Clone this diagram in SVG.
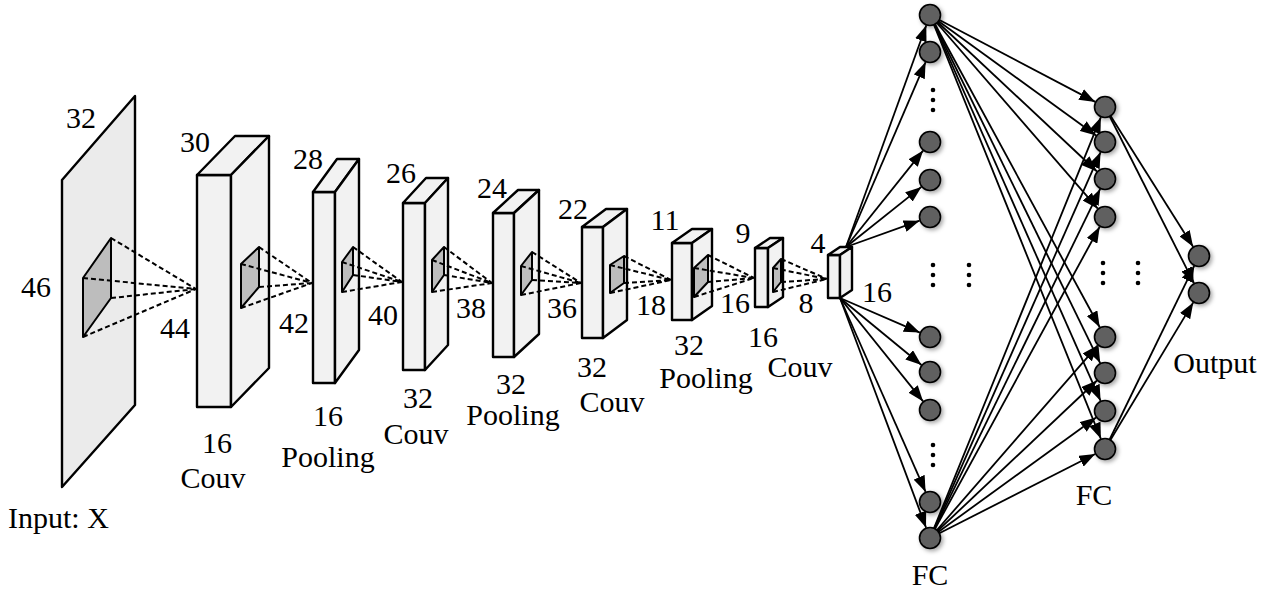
<svg xmlns="http://www.w3.org/2000/svg" width="1277" height="595" viewBox="0 0 1277 595" font-family="Liberation Serif, DejaVu Serif, serif">
  <style>
    .plane { fill: #ebebeb; stroke: #000; stroke-width: 2.4; stroke-linejoin: round; }
    .face { fill: #f2f2f2; stroke: #000; stroke-width: 2.4; stroke-linejoin: round; }
    .patch { fill: #bdbdbd; stroke: #000; stroke-width: 2; stroke-linejoin: round; }
    .dash { fill: none; stroke: #000; stroke-width: 2; stroke-dasharray: 5 3; }
    .lbl { font-family: 'Liberation Serif', 'DejaVu Serif', serif; font-size: 30px; fill: #000; text-anchor: middle; }
    .edge { stroke: #000; stroke-width: 1.8; fill: none; marker-end: url(#arr); }
    .node { fill: #616161; stroke: #000; stroke-width: 1.6; filter: url(#sh); }
    .dot { fill: #000; }
  </style>
  <defs>
    <marker id="arr" markerUnits="userSpaceOnUse" markerWidth="16" markerHeight="12" refX="16" refY="6" orient="auto">
      <path d="M0,0 L16,6 L0,12 Z" fill="#000"/>
    </marker>
    <filter id="sh" x="-50%" y="-50%" width="200%" height="200%">
      <feDropShadow dx="2" dy="2" stdDeviation="2" flood-color="#000" flood-opacity="0.35"/>
    </filter>
  </defs>

  <rect width="1277" height="595" fill="#fff"/>

  <!-- input plane -->
  <g id="input">
    <polygon class="plane" points="62,180 135,96 135,405 62,487"/>
    <polygon class="patch" points="111,238 111,298 83,337 83,278"/>
    <text class="lbl" font-family="Liberation Serif" x="81" y="128">32</text>
    <text class="lbl" font-family="Liberation Serif" x="36" y="297">46</text>
    <text class="lbl" font-family="Liberation Serif" x="175" y="338">44</text>
    <text class="lbl" font-family="Liberation Serif" x="8" y="528" style="text-anchor:start">Input: X</text>
  </g>

  <!-- convolution / pooling volumes -->
  <g id="conv1">
    <polygon class="face" points="197,175 231,175 231,407 197,407"/>
    <polygon class="face" points="197,175 235,136 269,136 231,175"/>
    <polygon class="face" points="231,175 269,136 269,368 231,407"/>
    <polygon class="patch" points="259,247 259,287 241,308 241,264"/>
    <text class="lbl" x="195" y="152">30</text>
    <text class="lbl" x="294" y="333">42</text>
    <text class="lbl" x="217" y="453">16</text>
    <text class="lbl" x="213" y="488">Couv</text>
  </g>
  <g id="pool1">
    <polygon class="face" points="313,192 335,192 335,383 313,383"/>
    <polygon class="face" points="313,192 337,159 359,159 335,192"/>
    <polygon class="face" points="335,192 359,159 359,350 335,383"/>
    <polygon class="patch" points="353,247 353,275 342,292 342,262"/>
    <text class="lbl" x="308" y="169">28</text>
    <text class="lbl" x="383" y="325">40</text>
    <text class="lbl" x="328" y="426">16</text>
    <text class="lbl" x="328" y="467">Pooling</text>
  </g>
  <g id="conv2">
    <polygon class="face" points="403,203 425,203 425,370 403,370"/>
    <polygon class="face" points="403,203 426,178 448,178 425,203"/>
    <polygon class="face" points="425,203 448,178 448,345 425,370"/>
    <polygon class="patch" points="444,247 444,275 432,292 432,260"/>
    <text class="lbl" x="401" y="183">26</text>
    <text class="lbl" x="471" y="318">38</text>
    <text class="lbl" x="418" y="408">32</text>
    <text class="lbl" x="416" y="444">Couv</text>
  </g>
  <g id="pool2">
    <polygon class="face" points="493,213 514,213 514,357 493,357"/>
    <polygon class="face" points="493,213 518,190 539,190 514,213"/>
    <polygon class="face" points="514,213 539,190 539,334 514,357"/>
    <polygon class="patch" points="532,252 532,280 521,295 521,266"/>
    <text class="lbl" x="492" y="198">24</text>
    <text class="lbl" x="562" y="318">36</text>
    <text class="lbl" x="511" y="394">32</text>
    <text class="lbl" x="513" y="425">Pooling</text>
  </g>
  <g id="conv3">
    <polygon class="face" points="582,227 603,227 603,338 582,338"/>
    <polygon class="face" points="582,227 606,209 627,209 603,227"/>
    <polygon class="face" points="603,227 627,209 627,320 603,338"/>
    <polygon class="patch" points="624,256 624,283 610,293 610,265"/>
    <text class="lbl" x="573" y="219">22</text>
    <text class="lbl" x="651" y="315">18</text>
    <text class="lbl" x="592" y="377">32</text>
    <text class="lbl" x="612" y="412">Couv</text>
  </g>
  <g id="pool3">
    <polygon class="face" points="672,243 692,243 692,320 672,320"/>
    <polygon class="face" points="672,243 692,229 712,229 692,243"/>
    <polygon class="face" points="692,243 712,229 712,306 692,320"/>
    <polygon class="patch" points="708,255 708,282 694,297 694,268"/>
    <text class="lbl" x="665" y="230">11</text>
    <text class="lbl" x="735" y="313">16</text>
    <text class="lbl" x="689" y="355">32</text>
    <text class="lbl" x="706" y="388">Pooling</text>
  </g>
  <g id="conv4">
    <polygon class="face" points="755,248 768,248 768,307 755,307"/>
    <polygon class="face" points="755,248 770,238 783,238 768,248"/>
    <polygon class="face" points="768,248 783,238 783,297 768,307"/>
    <polygon class="patch" points="781,259 781,282 773,292 773,268"/>
    <text class="lbl" x="743" y="243">9</text>
    <text class="lbl" x="806" y="313">8</text>
    <text class="lbl" x="763" y="347">16</text>
    <text class="lbl" x="800" y="377">Couv</text>
  </g>
  <g id="flat">
    <polygon class="face" points="828,255 840,255 840,298 828,298"/>
    <polygon class="face" points="828,255 840,247 852,247 840,255"/>
    <polygon class="face" points="840,255 852,247 852,290 840,298"/>
    <text class="lbl" x="818" y="253">4</text>
    <text class="lbl" x="877" y="302">16</text>
  </g>

  <!-- receptive-field projections and dense connections -->
  <g id="connectors">
    <g id="receptive">
      <path class="dash" d="M111,238 L196,289 M111,298 L196,289 M83,337 L196,289 M83,278 L196,289"/>
      <path class="dash" d="M259,247 L312,283 M259,287 L312,283 M241,308 L312,283 M241,264 L312,283"/>
      <path class="dash" d="M353,247 L402,282 M353,275 L402,282 M342,292 L402,282 M342,262 L402,282"/>
      <path class="dash" d="M444,247 L492,283 M444,275 L492,283 M432,292 L492,283 M432,260 L492,283"/>
      <path class="dash" d="M532,252 L581,283 M532,280 L581,283 M521,295 L581,283 M521,266 L581,283"/>
      <path class="dash" d="M624,256 L671,280 M624,283 L671,280 M610,293 L671,280 M610,265 L671,280"/>
      <path class="dash" d="M708,255 L754,278 M708,282 L754,278 M694,297 L754,278 M694,268 L754,278"/>
      <path class="dash" d="M781,259 L827,279 M781,282 L827,279 M773,292 L827,279 M773,268 L827,279"/>
    </g>
    <g id="flat-to-fc1">
      <line class="edge" x1="846" y1="247" x2="926.3" y2="25.3"/>
      <line class="edge" x1="846" y1="247" x2="925.6" y2="62.1"/>
      <line class="edge" x1="846" y1="247" x2="923.1" y2="150.6"/>
      <line class="edge" x1="846" y1="247" x2="921.4" y2="186.9"/>
      <line class="edge" x1="846" y1="247" x2="919.6" y2="220.7"/>
      <line class="edge" x1="840" y1="298" x2="919.9" y2="332.6"/>
      <line class="edge" x1="840" y1="298" x2="921.5" y2="365.0"/>
      <line class="edge" x1="840" y1="298" x2="923.1" y2="401.4"/>
      <line class="edge" x1="840" y1="298" x2="925.6" y2="491.9"/>
      <line class="edge" x1="840" y1="298" x2="926.1" y2="527.7"/>
    </g>
    <g id="fc1-to-fc2">
      <line class="edge" x1="930" y1="15" x2="1095.3" y2="101.9"/>
      <line class="edge" x1="930" y1="15" x2="1096.1" y2="135.5"/>
      <line class="edge" x1="930" y1="15" x2="1097.0" y2="171.5"/>
      <line class="edge" x1="930" y1="15" x2="1097.8" y2="208.7"/>
      <line class="edge" x1="930" y1="15" x2="1099.7" y2="327.3"/>
      <line class="edge" x1="930" y1="15" x2="1100.2" y2="363.1"/>
      <line class="edge" x1="930" y1="15" x2="1100.6" y2="400.9"/>
      <line class="edge" x1="930" y1="15" x2="1100.9" y2="438.8"/>
      <line class="edge" x1="930" y1="538" x2="1100.9" y2="117.2"/>
      <line class="edge" x1="930" y1="538" x2="1100.6" y2="152.1"/>
      <line class="edge" x1="930" y1="538" x2="1100.2" y2="188.9"/>
      <line class="edge" x1="930" y1="538" x2="1099.7" y2="226.7"/>
      <line class="edge" x1="930" y1="538" x2="1097.8" y2="345.3"/>
      <line class="edge" x1="930" y1="538" x2="1097.0" y2="380.5"/>
      <line class="edge" x1="930" y1="538" x2="1096.1" y2="417.5"/>
      <line class="edge" x1="930" y1="538" x2="1095.2" y2="454.0"/>
    </g>
    <g id="fc2-to-out">
      <line class="edge" x1="1105" y1="107" x2="1193.1" y2="246.7"/>
      <line class="edge" x1="1105" y1="107" x2="1194.0" y2="283.2"/>
      <line class="edge" x1="1105" y1="449" x2="1194.2" y2="265.9"/>
      <line class="edge" x1="1105" y1="449" x2="1193.3" y2="302.4"/>
    </g>
  </g>

  <!-- first fully connected layer -->
  <g id="fc1">
    <circle class="node" cx="930" cy="15" r="10.5"/>
    <circle class="node" cx="930" cy="52" r="10.5"/>
    <circle class="node" cx="930" cy="142" r="10.5"/>
    <circle class="node" cx="930" cy="180" r="10.5"/>
    <circle class="node" cx="930" cy="217" r="10.5"/>
    <circle class="node" cx="930" cy="337" r="10.5"/>
    <circle class="node" cx="930" cy="372" r="10.5"/>
    <circle class="node" cx="930" cy="410" r="10.5"/>
    <circle class="node" cx="930" cy="502" r="10.5"/>
    <circle class="node" cx="930" cy="538" r="10.5"/>
    <g class="dot">
      <circle cx="933" cy="90" r="2.3"/><circle cx="933" cy="100" r="2.3"/><circle cx="933" cy="110" r="2.3"/>
      <circle cx="933" cy="265" r="2.3"/><circle cx="933" cy="275" r="2.3"/><circle cx="933" cy="285" r="2.3"/>
      <circle cx="969" cy="265" r="2.3"/><circle cx="969" cy="275" r="2.3"/><circle cx="969" cy="285" r="2.3"/>
      <circle cx="933" cy="445" r="2.3"/><circle cx="933" cy="455" r="2.3"/><circle cx="933" cy="465" r="2.3"/>
    </g>
    <text class="lbl" x="930" y="585">FC</text>
  </g>

  <!-- second fully connected layer -->
  <g id="fc2">
    <circle class="node" cx="1105" cy="107" r="10.5"/>
    <circle class="node" cx="1105" cy="142" r="10.5"/>
    <circle class="node" cx="1105" cy="179" r="10.5"/>
    <circle class="node" cx="1105" cy="217" r="10.5"/>
    <circle class="node" cx="1105" cy="337" r="10.5"/>
    <circle class="node" cx="1105" cy="373" r="10.5"/>
    <circle class="node" cx="1105" cy="411" r="10.5"/>
    <circle class="node" cx="1105" cy="449" r="10.5"/>
    <g class="dot">
      <circle cx="1103" cy="263" r="2.3"/><circle cx="1103" cy="273" r="2.3"/><circle cx="1103" cy="283" r="2.3"/>
      <circle cx="1138" cy="263" r="2.3"/><circle cx="1138" cy="273" r="2.3"/><circle cx="1138" cy="283" r="2.3"/>
    </g>
    <text class="lbl" x="1094" y="505">FC</text>
  </g>

  <!-- output layer -->
  <g id="output">
    <circle class="node" cx="1199" cy="256" r="10.5"/>
    <circle class="node" cx="1199" cy="293" r="10.5"/>
    <text class="lbl" x="1215" y="373">Output</text>
  </g>
</svg>
